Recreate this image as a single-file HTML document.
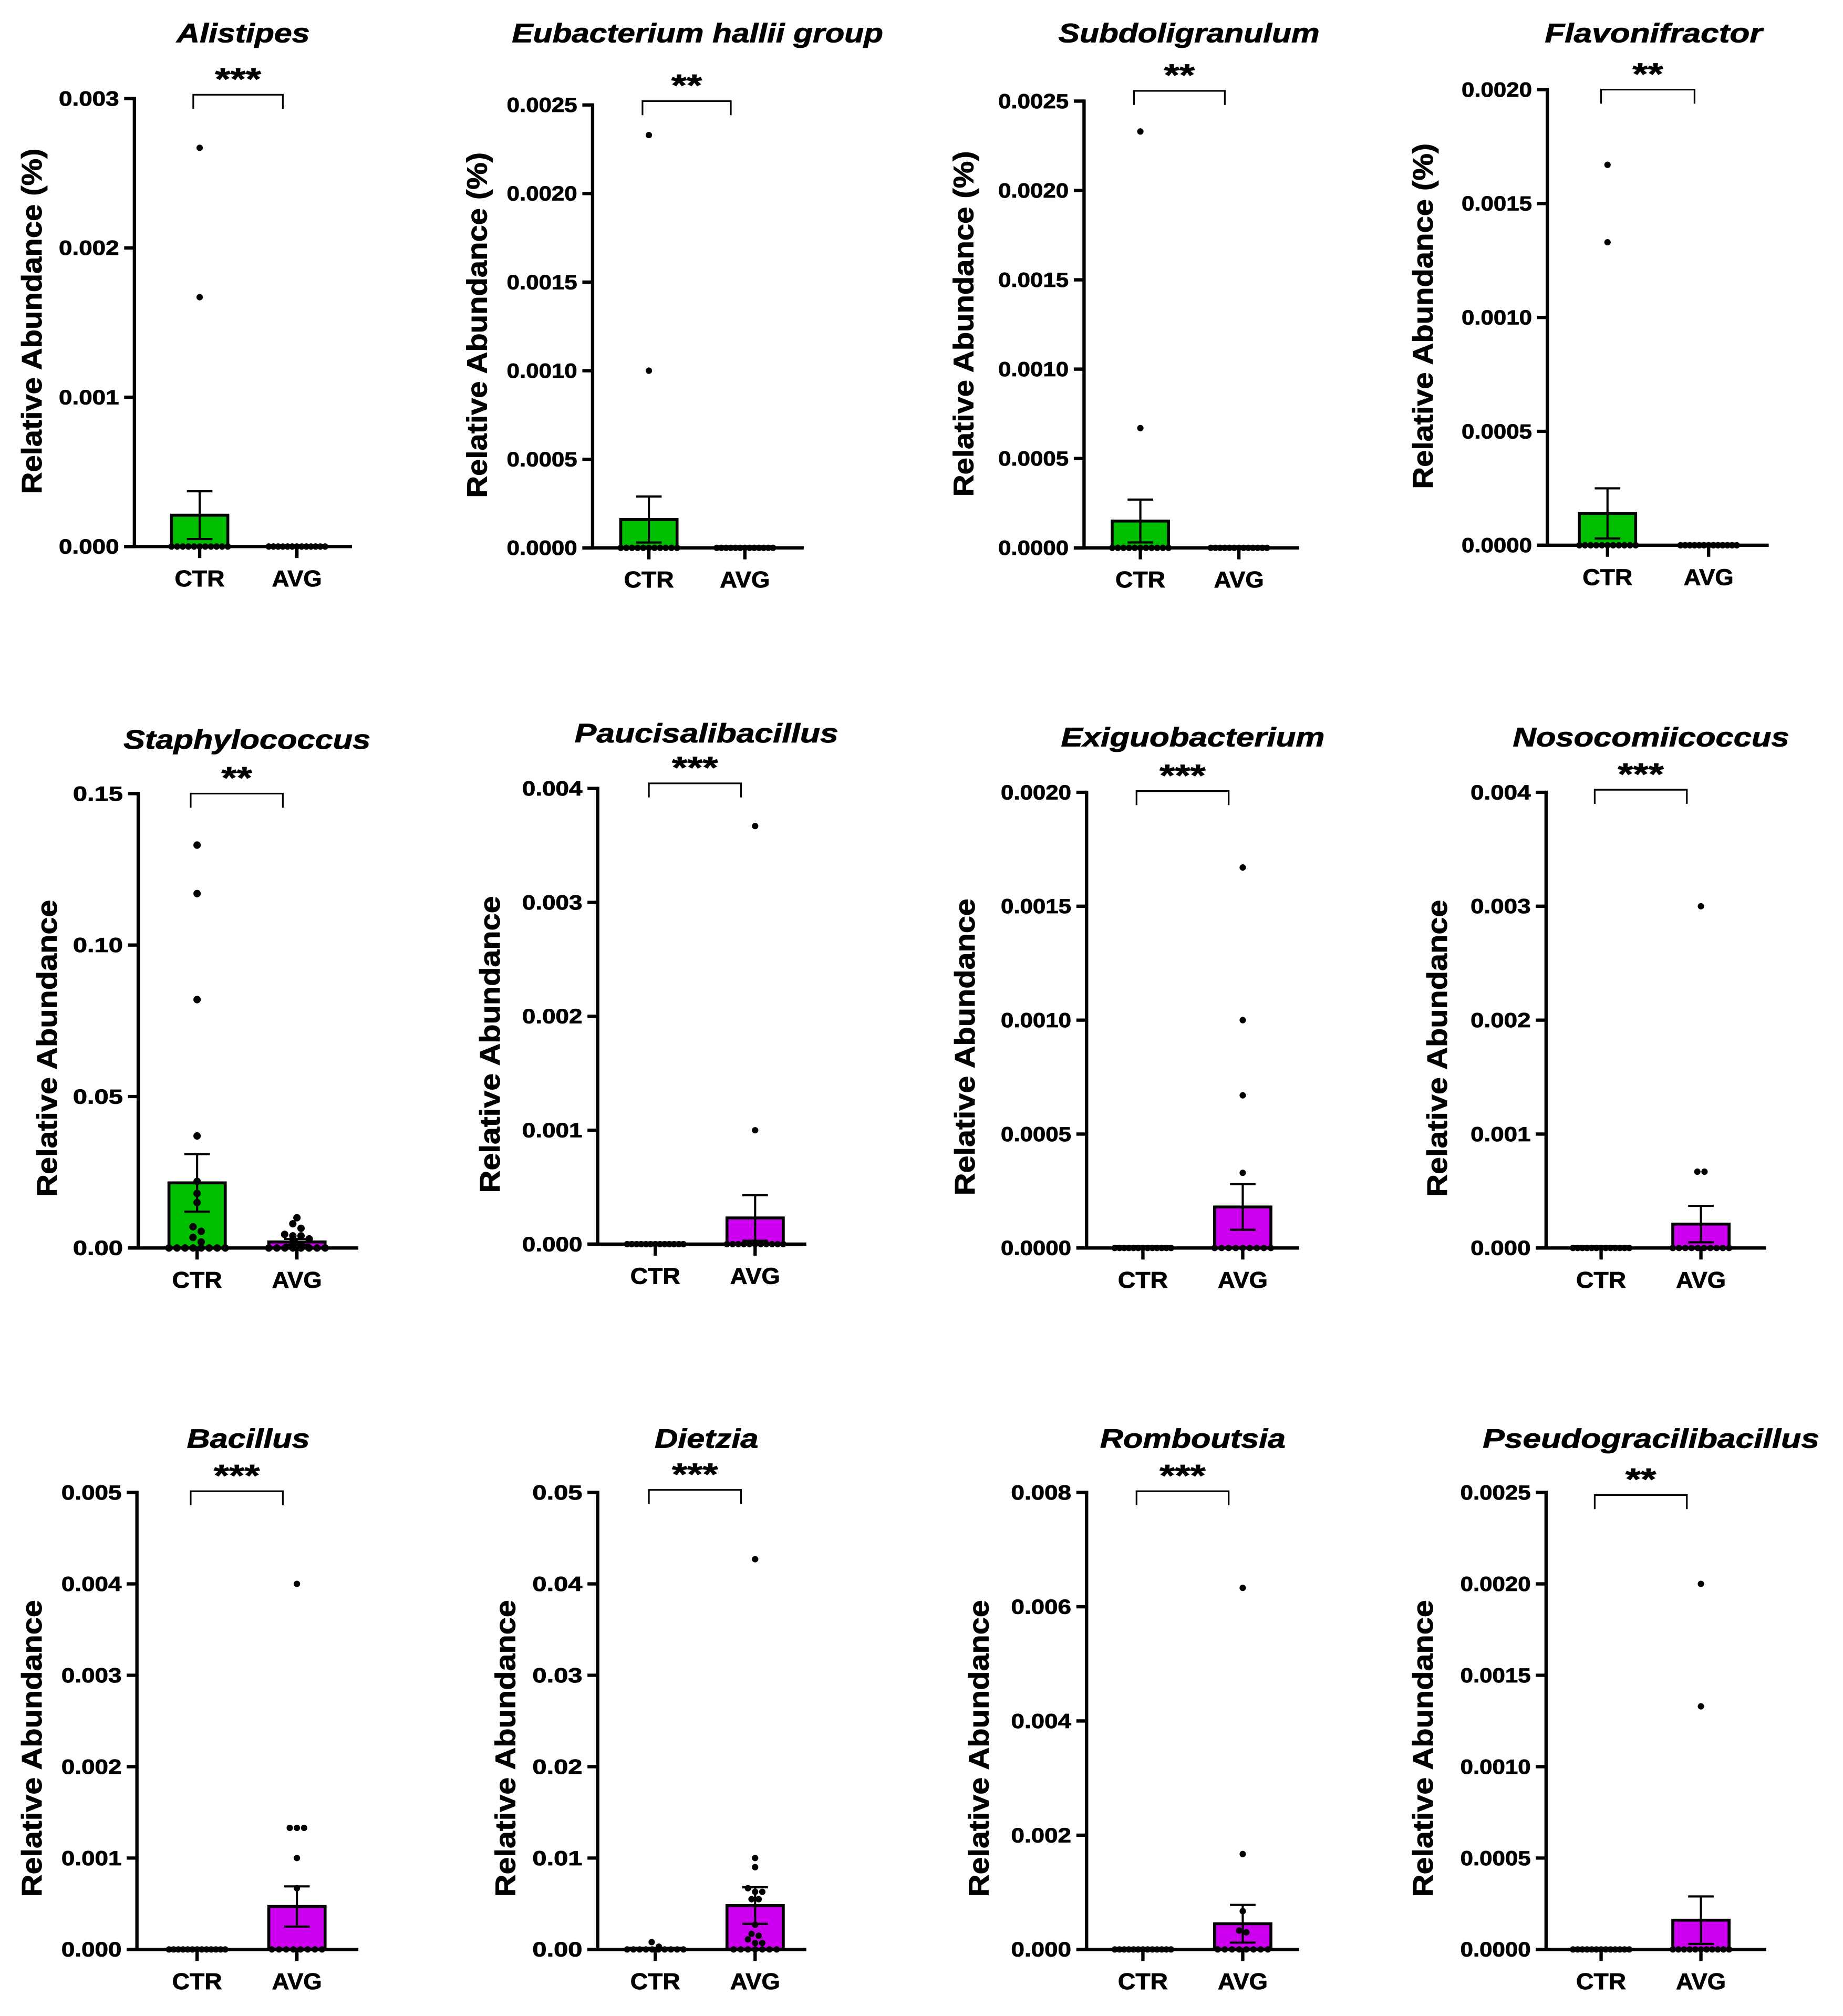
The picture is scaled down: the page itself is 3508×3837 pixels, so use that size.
<!DOCTYPE html>
<html><head><meta charset="utf-8">
<style>
html,body{margin:0;padding:0;background:#fff;}
svg{display:block;}
text{font-family:"Liberation Sans",Arial,sans-serif;font-weight:bold;fill:#000;stroke:#000;stroke-width:0.35px;}
</style></head>
<body>
<svg id="fig" xmlns="http://www.w3.org/2000/svg" width="3508" height="3837" viewBox="0 0 1440 1575" preserveAspectRatio="none"></svg>
<script>
// ---------- data ----------
const titles = ["Alistipes","Eubacterium hallii group","Subdoligranulum","Flavonifractor",
  "Staphylococcus","Paucisalibacillus","Exiguobacterium","Nosocomiicoccus",
  "Bacillus","Dietzia","Romboutsia","Pseudogracilibacillus"];
const categories = ["CTR","AVG"];
const stars = ["***","**","**","**","**","***","***","***","***","***","***","**"];
const yMax  = [0.003,0.0025,0.0025,0.002,0.15,0.004,0.002,0.004,0.005,0.05,0.008,0.0025];
const yStep = [0.001,0.0005,0.0005,0.0005,0.05,0.001,0.0005,0.001,0.001,0.01,0.002,0.0005];
const tickDecimals = [3,4,4,4,2,3,4,3,3,2,3,4];
const ctrMean = [0.00021,0.00016,0.00015,0.00014,0.0215,0,0,0,0,0.00007,0,0];
const ctrSem  = [0.00016,0.00013,0.00012,0.00011,0.0095,0,0,0,0,0.00005,0,0];
const avgMean = [0,0,0,0,0.002,0.00023,0.00018,0.00021,0.00047,0.0048,0.00045,0.00016];
const avgSem  = [0,0,0,0,0.001,0.0002,0.0001,0.00016,0.00022,0.002,0.00033,0.00013];
const ctrPoints = [
  [0.00267,0.00167,0,0,0,0,0,0,0,0,0,0,0],
  [0.00233,0.0010,0,0,0,0,0,0,0,0,0,0,0],
  [0.00233,0.00067,0,0,0,0,0,0,0,0,0,0,0],
  [0.00167,0.00133,0,0,0,0,0,0,0,0,0,0,0],
  [0.133,0.117,0.082,0.037,0.022,0.018,0.015,0.007,0.0055,0.0035,0.002,0,0,0,0,0,0,0,0],
  [0,0,0,0,0,0,0,0,0,0,0,0,0],
  [0,0,0,0,0,0,0,0,0,0,0,0,0],
  [0,0,0,0,0,0,0,0,0,0,0,0,0],
  [0,0,0,0,0,0,0,0,0,0,0,0,0],
  [0.0008,0.0003,0,0,0,0,0,0,0,0,0,0],
  [0,0,0,0,0,0,0,0,0,0,0,0,0],
  [0,0,0,0,0,0,0,0,0,0,0,0,0]
];
const avgPoints = [
  [0,0,0,0,0,0,0,0,0,0,0,0,0],
  [0,0,0,0,0,0,0,0,0,0,0,0,0],
  [0,0,0,0,0,0,0,0,0,0,0,0,0],
  [0,0,0,0,0,0,0,0,0,0,0,0,0],
  [0.010,0.008,0.0065,0.0045,0.004,0.004,0.003,0.002,0.001,0,0,0,0,0,0,0,0],
  [0.00367,0.0010,0,0,0,0,0,0,0,0,0,0,0],
  [0.00167,0.0010,0.00067,0.00033,0,0,0,0,0,0,0,0,0],
  [0.0030,0.00067,0.00067,0,0,0,0,0,0,0,0,0,0],
  [0.004,0.00133,0.00133,0.00133,0.0010,0.00067,0,0,0,0,0,0,0,0],
  [0.0427,0.010,0.009,0.0067,0.0063,0.0063,0.0055,0.0055,0.0027,0.0017,0.0015,0.0011,0.0007,0.0007,0,0,0,0,0,0,0],
  [0.00633,0.00167,0.00067,0.00033,0.0003,0,0,0,0,0,0,0,0],
  [0.0020,0.00133,0,0,0,0,0,0,0,0,0,0,0]
];
const yTitles = ["Relative Abundance (%)","Relative Abundance (%)","Relative Abundance (%)","Relative Abundance (%)",
  "Relative Abundance","Relative Abundance","Relative Abundance","Relative Abundance",
  "Relative Abundance","Relative Abundance","Relative Abundance","Relative Abundance"];

// ---------- layout (pixel geometry, not data) ----------
const layout = [
 {ax:105,top:77,y0:427,end:275,c:156,a:232,tx:190,ty:33,by:74,yt:25,yc:251,tl:104},
 {ax:463,top:82,y0:428,end:628,c:507,a:582,tx:545,ty:33,by:79,yt:373,yc:254,tl:290},
 {ax:847,top:79,y0:428,end:1015,c:891,a:968,tx:929,ty:33,by:71,yt:753,yc:253,tl:204},
 {ax:1209,top:70,y0:426,end:1382,c:1256,a:1335,tx:1292,ty:33,by:70,yt:1112,yc:247,tl:170},
 {ax:108,top:620,y0:975,end:280,c:154,a:232,tx:193,ty:585,by:620,yt:37,yc:819,tl:193},
 {ax:467,top:616,y0:972,end:630,c:512,a:590,tx:552,ty:580,by:612,yt:383,yc:816,tl:206},
 {ax:849,top:619,y0:975,end:1015,c:893,a:971,tx:932,ty:583,by:618,yt:754,yc:818,tl:206},
 {ax:1208,top:619,y0:975,end:1380,c:1251,a:1329,tx:1290,ty:583,by:617,yt:1123,yc:819,tl:216},
 {ax:107,top:1166,y0:1523,end:280,c:154,a:232,tx:194,ty:1131,by:1165,yt:25,yc:1366,tl:96},
 {ax:467,top:1166,y0:1523,end:630,c:512,a:590,tx:552,ty:1131,by:1164,yt:395,yc:1366,tl:81},
 {ax:849,top:1166,y0:1523,end:1015,c:893,a:971,tx:932,ty:1131,by:1165,yt:765,yc:1366,tl:145},
 {ax:1208,top:1166,y0:1523,end:1380,c:1251,a:1329,tx:1290,ty:1131,by:1168,yt:1112,yc:1366,tl:263}
];
const GREEN = "#00BE00", MAGENTA = "#CC00EE";
const NS = "http://www.w3.org/2000/svg";
const svg = document.getElementById("fig");
function mk(tag, attrs, parent){
  const e = document.createElementNS(NS, tag);
  for (const k in attrs) e.setAttribute(k, attrs[k]);
  (parent||svg).appendChild(e);
  return e;
}

function drawPanel(i){
  const L = layout[i];
  const g = mk("g", {});
  
  
  const yScale = v => L.y0 - (v / yMax[i]) * (L.y0 - L.top);
  const halfW = 22;

  const t = mk("text", {x:L.tx, y:L.ty, "text-anchor":"middle", "font-size":21, "font-style":"italic",
    textLength:L.tl, lengthAdjust:"spacingAndGlyphs"}, g);
  t.textContent = titles[i];
  
  

  const yt = mk("text", {x:0, y:0, "text-anchor":"middle", "dominant-baseline":"central", "font-size":22,
    textLength: yTitles[i].length > 19 ? 270 : 232, lengthAdjust:"spacingAndGlyphs",
    transform:`translate(${L.yt},${L.yc}) rotate(-90)`}, g);
  yt.textContent = yTitles[i];
  
  

  const means = [ctrMean[i], avgMean[i]];
  const sems = [ctrSem[i], avgSem[i]];
  const pts = [ctrPoints[i], avgPoints[i]];
  const cxs = [L.c, L.a];
  const colors = [GREEN, MAGENTA];
  for (let k = 0; k < 2; k++){
    const yv = yScale(means[k]);
    const bar = mk("rect", {x:cxs[k]-halfW, y:Math.min(yv, L.y0-1), width:halfW*2,
      height:Math.max(L.y0 - yv, 1), fill:colors[k], stroke:"#000", "stroke-width":2.3}, g);
    
    
  }
  const r = i === 4 ? 2.9 : 2.5;
  for (let k = 0; k < 2; k++){
    const arr = pts[k].slice().sort((a,b)=>b-a);
    const clusters = [];
    arr.forEach(v => {
      const y = yScale(v);
      const last = clusters[clusters.length-1];
      if (last && Math.abs(last.y - y) < r*1.6) last.items.push(y);
      else clusters.push({y:y, items:[y]});
    });
    clusters.forEach(cl => {
      const n = cl.items.length;
      let sp = 2*r + 0.6;
      if (n > 1) sp = Math.min(sp, 44/(n-1));
      cl.items.forEach((y, j) => {
        const x = cxs[k] + (j - (n-1)/2) * sp;
        const d = mk("circle", {cx:x, cy:y, r:r, fill:"#000"}, g);
        
        
      });
    });
  }
  for (let k = 0; k < 2; k++){
    if (sems[k] <= 0) continue;
    const hi = yScale(means[k] + sems[k]);
    const lo = yScale(Math.max(means[k] - sems[k], 0));
    const eg = mk("g", {stroke:"#000", "stroke-width":1.7, fill:"none"}, g);
    
    
    mk("line", {x1:cxs[k], x2:cxs[k], y1:hi, y2:lo}, eg);
    mk("line", {x1:cxs[k]-10, x2:cxs[k]+10, y1:hi, y2:hi}, eg);
    mk("line", {x1:cxs[k]-10, x2:cxs[k]+10, y1:lo, y2:lo}, eg);
  }

  const axes = mk("g", {stroke:"#000", "stroke-width":2.6, fill:"none"}, g);
  
  
  mk("line", {x1:L.ax, x2:L.ax, y1:L.top-1.3, y2:L.y0+1.3}, axes);
  mk("line", {x1:L.ax-8, x2:L.end, y1:L.y0, y2:L.y0}, axes);
  const nT = Math.round(yMax[i] / yStep[i]);
  for (let j = 0; j <= nT; j++){
    const v = j * yStep[i];
    const y = yScale(v);
    mk("line", {x1:L.ax-8, x2:L.ax, y1:y, y2:y}, axes);
    const lab = v.toFixed(tickDecimals[i]);
    const digits = lab.length - 1;
    const tt = mk("text", {x:L.ax-12, y:y+5.5, "text-anchor":"end", "font-size":16,
      textLength: 8*digits + 15, lengthAdjust:"spacingAndGlyphs"}, g);
    tt.textContent = lab;
    
    
  }
  for (let k = 0; k < 2; k++){
    mk("line", {x1:cxs[k], x2:cxs[k], y1:L.y0, y2:L.y0+9}, axes);
    const xt = mk("text", {x:cxs[k], y:L.y0+31, "text-anchor":"middle", "font-size":18,
      textLength:39, lengthAdjust:"spacingAndGlyphs"}, g);
    xt.textContent = categories[k];
    
    
  }

  const bx1 = L.c - 5, bx2 = L.a - 11;
  const br = mk("path", {d:`M${bx1},${L.by+11} V${L.by} H${bx2} V${L.by+11}`, stroke:"#000",
    "stroke-width":1.3, fill:"none"}, g);
  
  
  const st = mk("text", {x:(bx1+bx2)/2, y:L.by-4, "text-anchor":"middle", "font-size":24,
    textLength: stars[i].length*12, lengthAdjust:"spacingAndGlyphs"}, g);
  st.textContent = stars[i];
  
  
}
for (let i = 0; i < titles.length; i++) drawPanel(i);
</script>
</body></html>
